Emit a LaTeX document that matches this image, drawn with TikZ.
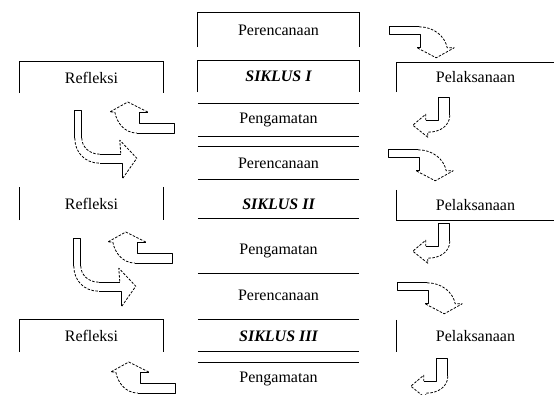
\documentclass[tikz,border=0pt]{standalone}
\usepackage{fontspec}
\setmainfont{Liberation Serif}
\usetikzlibrary{positioning}

\begin{document}
\begin{tikzpicture}[
    x=1pt, y=-1pt,
    box/.style={inner sep=0pt, minimum width=161pt, font=\fontsize{16}{18}\selectfont},
    sbox/.style={box, minimum width=143pt},
    pbox/.style={box, minimum width=157pt},
    siklus/.style={box, font=\fontsize{16}{18}\selectfont\bfseries\itshape},
    rule/.style={line width=1.2pt},
    blk/.style={line width=0.8pt, line join=round},
    blkdash/.style={blk, dash pattern=on 2.5pt off 1.5pt},
    % block arrows: filled white, straight shaft solid, bend and head dashed
    bentrd/.pic={
      \fill[white] (0,0) -- (30,0) .. controls (45,0) and (56,10) .. (58,21)
        -- (65,21) -- (47,31) -- (28,21) -- (31,21) -- (31,8) -- (0,8) -- cycle;
      \draw[blk] (30,0) -- (0,0) -- (0,8) -- (31,8) -- (31,21) -- (28,21);
      \draw[blkdash] (30,0) .. controls (45,0) and (56,10) .. (58,21) -- (65,21) -- (47,31) -- (28,21);},
    bentdl/.pic={
      \fill[white] (0,0) -- (11,0) -- (11,18) .. controls (11,28) and (2,35) .. (-11,35)
        -- (-11,40) -- (-26,28) -- (-13,17) -- (-13,23) -- (0,23) -- cycle;
      \draw[blk] (11,18) -- (11,0) -- (0,0) -- (0,23) -- (-13,23);
      \draw[blkdash] (11,18) .. controls (11,28) and (2,35) .. (-11,35) -- (-11,40) -- (-26,28)
        -- (-13,17) -- (-13,23);},
    bentlu/.pic={
      \fill[white] (0,0) -- (-35,0) -- (-35,-11) -- (-27,-11) -- (-47,-21) -- (-65,-11)
        -- (-60,-11) .. controls (-58,0) and (-50,10) .. (-38,10) -- (0,10) -- cycle;
      \draw[blk] (-38,10) -- (0,10) -- (0,0) -- (-35,0) -- (-35,-11) -- (-27,-11);
      \draw[blkdash] (-27,-11) -- (-47,-21) -- (-65,-11) -- (-60,-11)
        .. controls (-58,0) and (-50,10) .. (-38,10);},
    bentdr/.pic={
      \fill[white] (0,0) -- (0,28) .. controls (0,42) and (10,53) .. (25,53) -- (48,53)
        -- (48,68) -- (62,48) -- (45,30) -- (46,44) -- (25,44) .. controls (14,44) and (7,36) .. (7,28)
        -- (7,0) -- cycle;
      \draw[blk] (0,28) -- (0,0) -- (7,0) -- (7,28);
      \draw[blk] (25,53) -- (48,53) -- (48,68) (46,44) -- (25,44);
      \draw[blkdash] (0,28) .. controls (0,42) and (10,53) .. (25,53);
      \draw[blkdash] (7,28) .. controls (7,36) and (14,44) .. (25,44);
      \draw[blkdash] (48,68) -- (62,48) -- (45,30) -- (46,44);},
  ]
    \useasboundingbox (0,0) rectangle (554,394);

    % ===== CENTRE COLUMN: the three cycles =====
    \node[box, minimum height=34pt] (perenc1) at (278.5,30) {Perencanaan};
    \draw[rule] (perenc1.south west) -- (perenc1.north west) -- (perenc1.north east) -- (perenc1.south east);

    \node[siklus, minimum height=31pt] (siklus1) at (278.5,76.5) {SIKLUS I};
    \draw[rule] (siklus1.south west) -- (siklus1.north west) -- (siklus1.north east) -- (siklus1.south east);

    \node[box, minimum height=32pt] (amat1) at (278.5,120) {Pengamatan};
    \draw[rule] (amat1.north west) -- (amat1.north east) (amat1.south west) -- (amat1.south east);

    \node[box, minimum height=32pt] (perenc2) at (278.5,163) {Perencanaan};
    \draw[rule] (perenc2.north west) -- (perenc2.north east) (perenc2.south west) -- (perenc2.south east);

    \node[siklus, minimum height=28pt] (siklus2) at (278.5,204) {SIKLUS II};
    \draw[rule] (siklus2.south west) -- (siklus2.south east);

    \node[box, minimum height=44pt] (amat2) at (278.5,251) {Pengamatan};
    \draw[rule] (amat2.south west) -- (amat2.south east);

    \node[box, minimum height=48pt] (perenc3) at (278.5,295) {Perencanaan};
    \draw[rule] (perenc3.south west) -- (perenc3.south east);

    \node[siklus, minimum height=30pt] (siklus3) at (278.5,336) {SIKLUS III};
    \draw[rule] (siklus3.south west) -- (siklus3.south east);

    \node[box, minimum height=32pt] (amat3) at (278.5,379) {Pengamatan};
    \draw[rule] (amat3.north west) -- (amat3.north east);

    % ===== LEFT COLUMN: Refleksi =====
    \node[sbox, minimum height=31pt] (refl1) at (91.5,77.5) {Refleksi};
    \draw[rule] (refl1.south west) -- (refl1.north west) -- (refl1.north east) -- (refl1.south east);

    \node[sbox, minimum height=33pt] (refl2) at (91.5,203.5) {Refleksi};
    \draw[rule] (refl2.south west) -- (refl2.north west) (refl2.north east) -- (refl2.south east);

    \node[sbox, minimum height=32pt] (refl3) at (91.5,336) {Refleksi};
    \draw[rule] (refl3.south west) -- (refl3.north west) -- (refl3.north east) -- (refl3.south east);

    % ===== RIGHT COLUMN: Pelaksanaan =====
    \node[pbox, minimum height=29pt] (pel1) at (475.5,77.5) {Pelaksanaan};
    \draw[rule] (pel1.south west) -- (pel1.north west) -- (pel1.north east);

    \node[pbox, minimum height=30pt] (pel2) at (475.5,205) {Pelaksanaan};
    \draw[rule] (pel2.north west) -- (pel2.south west) -- (pel2.south east);

    \node[pbox, minimum height=32pt] (pel3) at (475.5,336) {Pelaksanaan};
    \draw[rule] (pel3.north west) -- (pel3.south west);

    % ===== BLOCK ARROWS, right side =====
    \path (perenc1.north east) ++(30,14) pic {bentrd};
    \path (pel1.south west) ++(42,5) pic {bentdl};
    \path (perenc2.north east) ++(29,3) pic {bentrd};
    \path (pel2.south west) ++(42,3) pic {bentdl};
    \path (perenc3.north east) ++(38,12) pic {bentrd};
    \path (pel3.south west) ++(40,6) pic {bentdl};

    % ===== BLOCK ARROWS, left side =====
    \path (amat1.west) ++(-23,3) pic {bentlu};
    \path (refl1.south west) ++(55,17) pic {bentdr};
    \path (amat2.west) ++(-25,2) pic {bentlu};
    \path (refl2.south west) ++(54,18) pic {bentdr};
    \path (amat3.west) ++(-22,4) pic {bentlu};

\end{tikzpicture}
\end{document}
